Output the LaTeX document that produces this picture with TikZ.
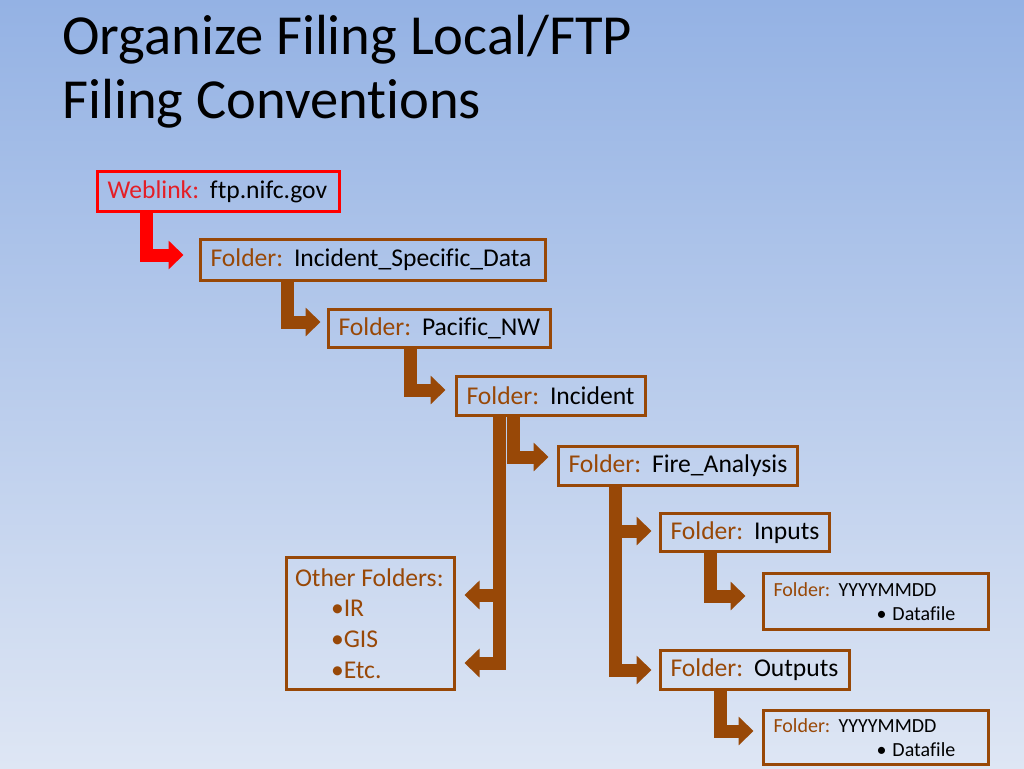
\documentclass[tikz,border=0pt]{standalone}
\usepackage{fontspec}
\setmainfont{Carlito}[Ligatures={NoCommon,NoContextual,NoRequired}]
\usetikzlibrary{arrows.meta,calc}
\definecolor{brn}{HTML}{984807}
\definecolor{wred}{HTML}{FF0000}
\definecolor{wtxt}{HTML}{E41E26}
\definecolor{bgtop}{HTML}{94B2E4}
\definecolor{bgbot}{HTML}{DEE6F4}
\newcommand\fl[2]{\mbox{\textcolor{brn}{#1}\hspace{0.42em}#2}}
\begin{document}
\frenchspacing
\begin{tikzpicture}[x=1pt,y=-1pt,
  box/.style={draw=brn, line width=3pt, inner xsep=10pt, inner ysep=0pt, align=left,
    font=\fontsize{25.6}{30.7}\selectfont\frenchspacing},
  sbox/.style={box, font=\fontsize{20}{23.5}\selectfont\frenchspacing},
  ttl/.style={anchor=base west, inner sep=0pt, font=\fontsize{56.6}{63}\selectfont},
  arr/.style={draw=brn, line width=13pt, -{Triangle[width=28pt,length=15pt]}},
  rarr/.style={arr, draw=wred},
]
\useasboundingbox (0,0) rectangle (1024,768);
\shade[top color=bgtop, bottom color=bgbot] (0,0) rectangle (1024,768);

\node[ttl] (t1) at (62,55) {Organize Filing Local/FTP};
\node[ttl] (t2) at (62,118) {Filing Conventions};

\node[box, draw=wred, minimum width=242, minimum height=40, text width=222] (web) at (218.5,191.5)
  {\mbox{\textcolor{wtxt}{Weblink:}\hspace{0.42em}ftp.nifc.gov}};
\node[box, minimum width=345, minimum height=41, text width=325] (isd) at (373,260)
  {\fl{Folder:}{Incident\_Specific\_Data}};
\node[box, minimum width=222, minimum height=38, text width=202] (pnw) at (439.5,328.5)
  {\fl{Folder:}{Pacific\_NW}};
\node[box, minimum width=189, minimum height=39, text width=169] (inc) at (551,396)
  {\fl{Folder:}{Incident}};
\node[box, minimum width=239, minimum height=39, text width=219] (fire) at (678,466)
  {\fl{Folder:}{Fire\_Analysis}};
\node[box, minimum width=169, minimum height=38, text width=149] (inp) at (745,532.5)
  {\fl{Folder:}{Inputs}};
\node[sbox, minimum width=225, minimum height=56, text width=205] (yy1) at (876,601.5)
  {\fl{Folder:}{YYYYMMDD}\\\hspace*{103pt}\mbox{•\hspace{0.3em}Datafile}};
\node[box, minimum width=189, minimum height=39, text width=169] (out) at (755,670)
  {\fl{Folder:}{Outputs}};
\node[sbox, minimum width=225, minimum height=54, text width=205] (yy2) at (876,737.5)
  {\fl{Folder:}{YYYYMMDD}\\\hspace*{103pt}\mbox{•\hspace{0.3em}Datafile}};
\node[box, text=brn, inner xsep=8.5pt, minimum width=168, minimum height=132, text width=151] (oth) at (370.5,623.5)
  {\mbox{Other\hspace{0.22em}Folders:}\\\hspace*{36pt}•IR\\\hspace*{36pt}•GIS\\\hspace*{36pt}•Etc.};

\draw[rarr] (146,0 |- web.south) |- ($(isd.west)+(-15.5,-5)$);
\draw[arr] (287,0 |- isd.south) |- ($(pnw.west)+(-6.5,-6.5)$);
\draw[arr] (410,0 |- pnw.south) |- ($(inc.west)+(-9.5,-6)$);
\draw[arr] (513,0 |- inc.south) |- ($(fire.west)+(-8.5,-9)$);
\draw[arr] (499,0 |- inc.south) |- ($(oth.east)+(8.5,-28.5)$);
\draw[arr] (499,0 |- inc.south) |- ($(oth.east)+(8.5,39.5)$);
\draw[arr] (615,0 |- fire.south) |- ($(inp.west)+(-7.5,-1.5)$);
\draw[arr] (615,0 |- fire.south) |- ($(out.west)+(-7.5,0)$);
\draw[arr] (710,0 |- inp.south) |- ($(yy1.west)+(-16.5,-5.5)$);
\draw[arr] (720,0 |- out.south) |- ($(yy2.west)+(-8.5,-6.5)$);
\end{tikzpicture}
\end{document}
